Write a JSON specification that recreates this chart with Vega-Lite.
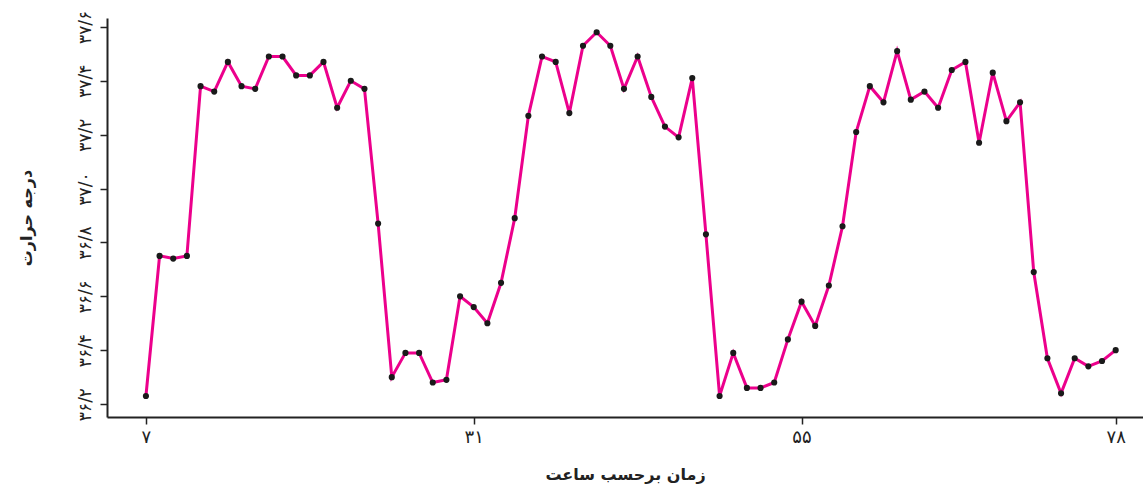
{
  "$schema": "https://vega.github.io/schema/vega-lite/v6.json",
  "width": 1036,
  "height": 399,
  "autosize": "none",
  "padding": {"left": 107, "top": 18, "right": 0, "bottom": 70},
  "background": "white",
  "data": {"values": [
    {"h":7,"t":36.23},{"h":8,"t":36.75},{"h":9,"t":36.74},{"h":10,"t":36.75},{"h":11,"t":37.38},{"h":12,"t":37.36},
    {"h":13,"t":37.47},{"h":14,"t":37.38},{"h":15,"t":37.37},{"h":16,"t":37.49},{"h":17,"t":37.49},{"h":18,"t":37.42},
    {"h":19,"t":37.42},{"h":20,"t":37.47},{"h":21,"t":37.30},{"h":22,"t":37.40},{"h":23,"t":37.37},{"h":24,"t":36.87},
    {"h":25,"t":36.30},{"h":26,"t":36.39},{"h":27,"t":36.39},{"h":28,"t":36.28},{"h":29,"t":36.29},{"h":30,"t":36.60},
    {"h":31,"t":36.56},{"h":32,"t":36.50},{"h":33,"t":36.65},{"h":34,"t":36.89},{"h":35,"t":37.27},{"h":36,"t":37.49},
    {"h":37,"t":37.47},{"h":38,"t":37.28},{"h":39,"t":37.53},{"h":40,"t":37.58},{"h":41,"t":37.53},{"h":42,"t":37.37},
    {"h":43,"t":37.49},{"h":44,"t":37.34},{"h":45,"t":37.23},{"h":46,"t":37.19},{"h":47,"t":37.41},{"h":48,"t":36.83},
    {"h":49,"t":36.23},{"h":50,"t":36.39},{"h":51,"t":36.26},{"h":52,"t":36.26},{"h":53,"t":36.28},{"h":54,"t":36.44},
    {"h":55,"t":36.58},{"h":56,"t":36.49},{"h":57,"t":36.64},{"h":58,"t":36.86},{"h":59,"t":37.21},{"h":60,"t":37.38},
    {"h":61,"t":37.32},{"h":62,"t":37.51},{"h":63,"t":37.33},{"h":64,"t":37.36},{"h":65,"t":37.30},{"h":66,"t":37.44},
    {"h":67,"t":37.47},{"h":68,"t":37.17},{"h":69,"t":37.43},{"h":70,"t":37.25},{"h":71,"t":37.32},{"h":72,"t":36.69},
    {"h":73,"t":36.37},{"h":74,"t":36.24},{"h":75,"t":36.37},{"h":76,"t":36.34},{"h":77,"t":36.36},{"h":78,"t":36.40}
  ]},
  "encoding": {
    "x": {"field": "h", "type": "quantitative",
      "scale": {"domain": [4.15, 80], "nice": false, "zero": false},
      "axis": {"values": [7, 31, 55, 78], "grid": false, "title": "زمان برحسب ساعت",
        "titleFont": "DejaVu Sans", "titleFontSize": 16, "titleFontWeight": "bold", "titleColor": "#222", "titlePadding": 20,
        "labelFont": "DejaVu Sans", "labelFontSize": 18, "labelColor": "#222", "labelPadding": 4,
        "domainColor": "#222", "domainWidth": 2, "tickColor": "#222", "tickWidth": 1.5, "tickSize": 7,
        "labelExpr": "replace(replace(replace(replace(replace(replace(replace(replace(replace(replace(datum.label,/0/g,'۰'),/1/g,'۱'),/2/g,'۲'),/3/g,'۳'),/4/g,'۴'),/5/g,'۵'),/6/g,'۶'),/7/g,'۷'),/8/g,'۸'),/9/g,'۹')"}},
    "y": {"field": "t", "type": "quantitative",
      "scale": {"domain": [36.152, 37.633], "nice": false, "zero": false},
      "axis": {"values": [36.2, 36.4, 36.6, 36.8, 37.0, 37.2, 37.4, 37.6], "format": ".1f", "grid": false,
        "title": "درجه حرارت", "titleFont": "DejaVu Sans", "titleFontSize": 16, "titleFontWeight": "bold", "titleColor": "#222", "titlePadding": 42,
        "labelFont": "DejaVu Sans", "labelFontSize": 17, "labelColor": "#222", "labelAngle": -90, "labelAlign": "center", "labelBaseline": "bottom", "labelPadding": 6,
        "domainColor": "#222", "domainWidth": 2, "tickColor": "#222", "tickWidth": 1.5, "tickSize": 7,
        "labelExpr": "replace(replace(replace(replace(replace(replace(replace(replace(replace(replace(replace(datum.label,'.','/'),/0/g,'۰'),/1/g,'۱'),/2/g,'۲'),/3/g,'۳'),/4/g,'۴'),/5/g,'۵'),/6/g,'۶'),/7/g,'۷'),/8/g,'۸'),/9/g,'۹')"}}
  },
  "layer": [
    {"mark": {"type": "line", "color": "#ec008c", "strokeWidth": 3}},
    {"mark": {"type": "circle", "color": "#1a1a1a", "opacity": 1, "size": 38}}
  ],
  "config": {"view": {"stroke": null}}
}
